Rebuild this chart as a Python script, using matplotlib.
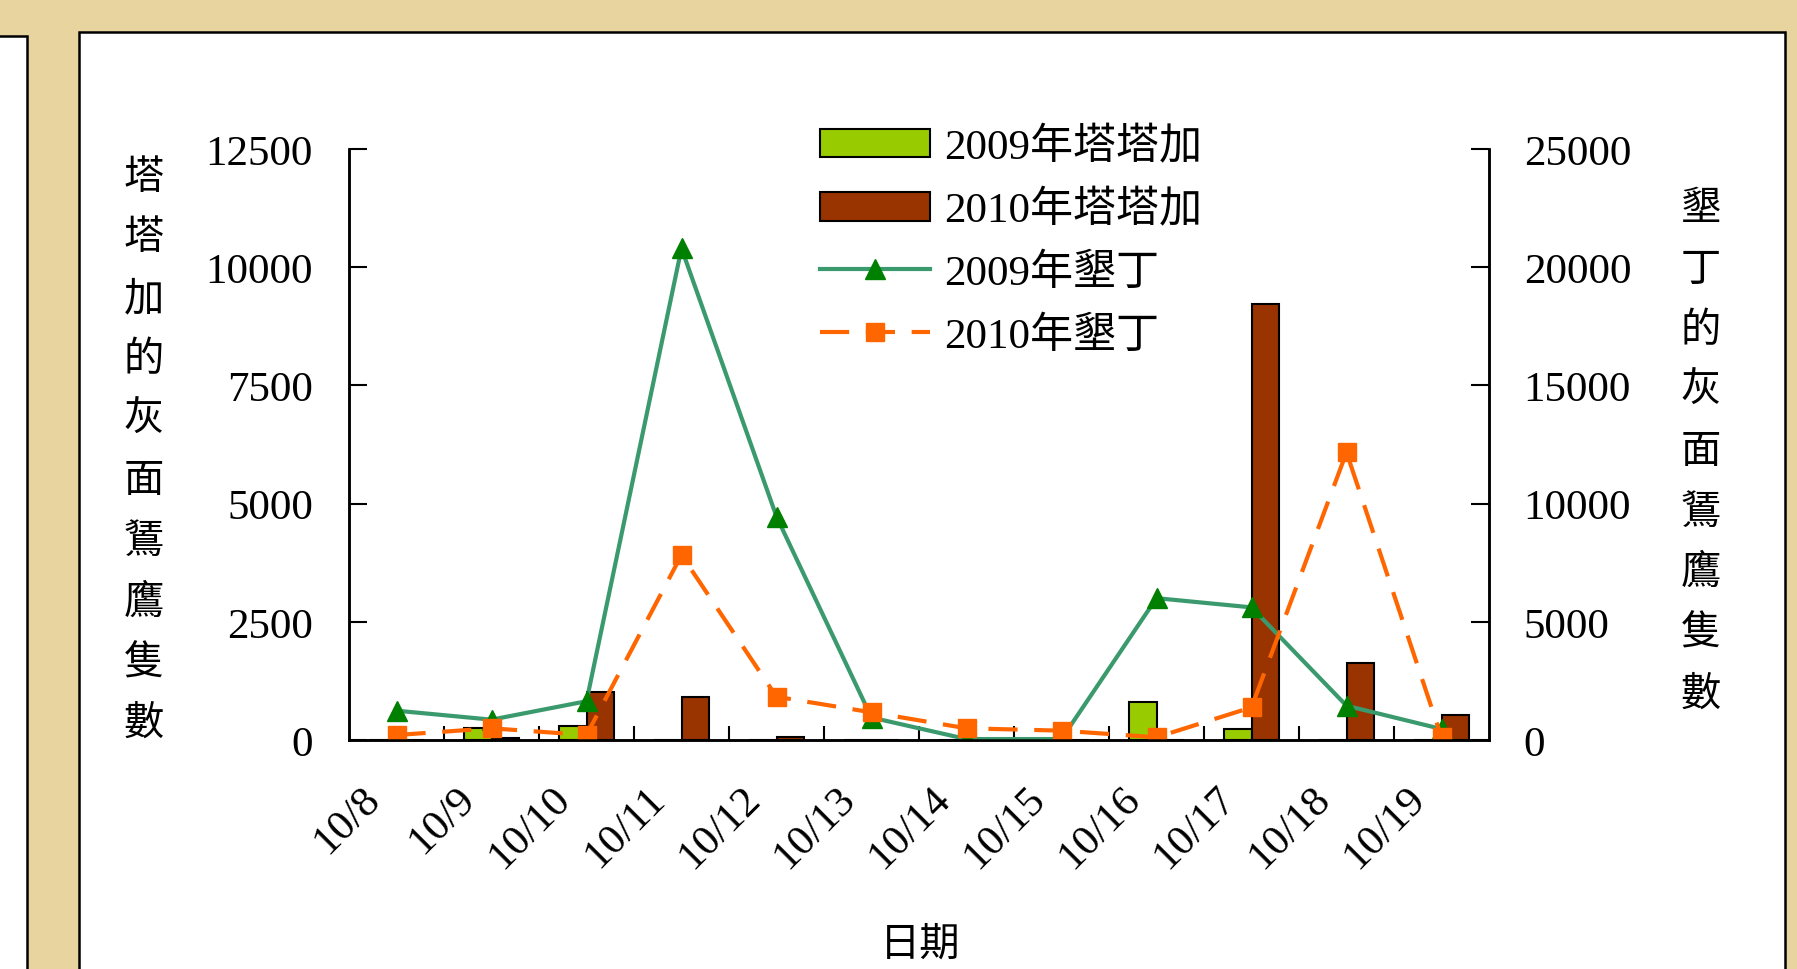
import numpy as np
import matplotlib.pyplot as plt
from matplotlib.patches import Rectangle
from matplotlib.transforms import ScaledTranslation

plt.rcParams['font.family'] = ['Liberation Serif', 'Noto Sans CJK TC']

dates = ["10/8", "10/9", "10/10", "10/11", "10/12", "10/13",
         "10/14", "10/15", "10/16", "10/17", "10/18", "10/19"]
tataka_2009 = [0, 250, 300, 0, 0, 0, 0, 0, 810, 235, 0, 0]
tataka_2010 = [0, 50, 1010, 910, 60, 0, 0, 0, 0, 9220, 1620, 530]
kenting_2009 = [1240, 860, 1640, 20800, 9450, 950, 40, 40, 6000, 5610, 1450, 465]
kenting_2010 = [210, 495, 210, 7825, 1830, 1170, 495, 395, 115, 1380, 12170, 115]

left_ticks = [0, 2500, 5000, 7500, 10000, 12500]
right_ticks = [0, 5000, 10000, 15000, 20000, 25000]
left_label = "塔塔加的灰面鵟鷹隻數"
right_label = "墾丁的灰面鵟鷹隻數"
series_names = ["2009年塔塔加", "2010年塔塔加", "2009年墾丁", "2010年墾丁"]

W, H = 1797, 970
fig = plt.figure(figsize=(W / 100, H / 100), dpi=100)
fig.patch.set_facecolor('#E8D49E')

# white panels on the parchment background
fig.patches.append(Rectangle((-0.01, -0.01), 27 / W + 0.01, (H - 37) / H + 0.01,
                             transform=fig.transFigure, facecolor='white',
                             edgecolor='black', lw=1.8, zorder=-2))
fig.patches.append(Rectangle((79 / W, -0.01), (1785 - 79) / W, (H - 33) / H + 0.01,
                             transform=fig.transFigure, facecolor='white',
                             edgecolor='black', lw=1.8, zorder=-2))

ax = fig.add_axes([349 / W, 1 - 741 / H, 1140 / W, 591 / H])
ax.set_facecolor('none')
x = np.arange(len(dates))
bw = 0.29
b1 = ax.bar(x, tataka_2009, width=-bw, align='edge', color='#99CC00',
            edgecolor='black', lw=1.5)
b2 = ax.bar(x, tataka_2010, width=bw, align='edge', color='#993300',
            edgecolor='black', lw=1.5)
ax.set_xlim(-0.5, len(dates) - 0.5)
ax.set_ylim(0, 12500)
ax.set_yticks(left_ticks)
ax.tick_params(axis='y', direction='in', length=13, width=1.5, pad=26, labelsize=31)
ax.set_xticks(x)
ax.set_xticklabels(dates, rotation=45, ha='right', va='center', rotation_mode='anchor')
ax.tick_params(axis='x', which='major', length=0, pad=38, labelsize=31)
ax.set_xticks(x[:-1] + 0.5, minor=True)
ax.tick_params(axis='x', which='minor', direction='in', length=10, width=1.5)
for lab in ax.get_xticklabels():
    lab.set_transform(lab.get_transform() + ScaledTranslation(-16 / 72, 0, fig.dpi_scale_trans))

ax2 = ax.twinx()
l1, = ax2.plot(x, kenting_2009, color='#3A9A6E', lw=3, marker='^', ms=14,
               mfc='#008000', mec='#008000')
l2, = ax2.plot(x, kenting_2010, color='#FF6600', lw=3, ls=(0, (7, 4)), marker='s',
               ms=12.5, mfc='#FF6600', mec='#FF6600')
ax2.set_ylim(0, 25000)
ax2.set_yticks(right_ticks)
ax2.tick_params(axis='y', direction='in', length=13, width=1.5, pad=25, labelsize=31)

for a in (ax, ax2):
    a.spines['top'].set_visible(False)
    for s in ('left', 'right', 'bottom'):
        a.spines[s].set_linewidth(1.8)

# vertical axis titles, one character per line
for i, ch in enumerate(left_label):
    fig.text(144 / W, 1 - (179 + i * 60.7) / H, ch, fontsize=29,
             ha='center', va='center')
for i, ch in enumerate(right_label):
    fig.text(1701 / W, 1 - (211 + i * 60.6) / H, ch, fontsize=29,
             ha='center', va='center')
fig.text(920 / W, 1 - 946 / H, "日期", fontsize=29, ha='center', va='center')

fig.legend([b1, b2, l1, l2], series_names, loc='upper left',
           bbox_to_anchor=(820 / W, 1 - 128 / H), frameon=False, fontsize=31,
           handlelength=2.55, handleheight=0.65, handletextpad=0.33,
           labelspacing=0.54, borderpad=0, borderaxespad=0)

fig.savefig("out.png", dpi=100, facecolor=fig.get_facecolor())
